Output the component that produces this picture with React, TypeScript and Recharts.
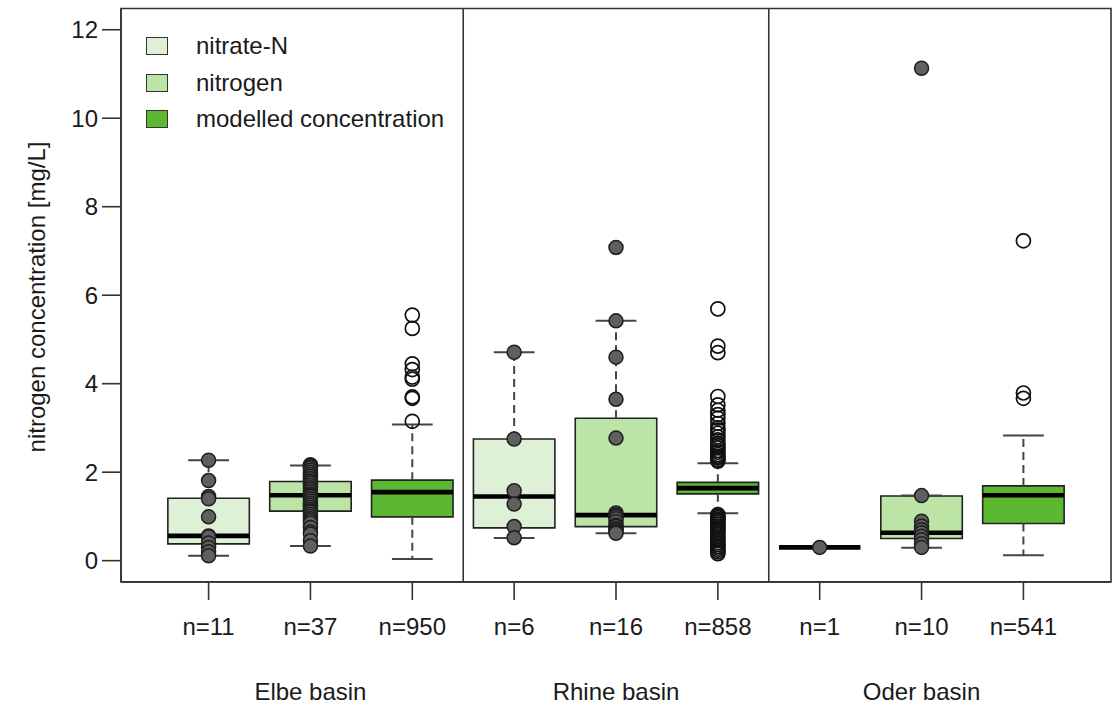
import React from 'react';
import { ComposedChart, XAxis, YAxis, Scatter, ReferenceArea, ReferenceLine, Legend } from 'recharts';

const BASINS = ['Elbe basin', 'Rhine basin', 'Oder basin'];
const BASIN_CENTERS = [2, 5, 8];
const SEPARATORS = [3.5, 6.5];
const SERIES_NAMES = ['nitrate-N', 'nitrogen', 'modelled concentration'];
const SERIES_COLORS = ['#DEF0D6', '#BBE4A6', '#5DB831'];

const BOX_POSITIONS = [1, 2, 3, 4, 5, 6, 7, 8, 9];
const BOX_SERIES = [0, 1, 2, 0, 1, 2, 0, 1, 2];
const N_LABELS = ['n=11', 'n=37', 'n=950', 'n=6', 'n=16', 'n=858', 'n=1', 'n=10', 'n=541'];

const WHISKER_LOW = [0.11, 0.33, 0.04, 0.51, 0.62, 1.07, 0.3, 0.29, 0.12];
const Q1 = [0.38, 1.12, 0.99, 0.74, 0.77, 1.51, 0.3, 0.5, 0.84];
const MEDIAN = [0.56, 1.48, 1.55, 1.45, 1.03, 1.64, 0.3, 0.63, 1.48];
const Q3 = [1.41, 1.79, 1.82, 2.75, 3.22, 1.77, 0.3, 1.46, 1.69];
const WHISKER_HIGH = [2.27, 2.15, 3.08, 4.71, 5.42, 2.2, 0.3, 1.47, 2.83];

// observed values (filled grey points)
const OBS_ELBE_NITRATE = [2.27, 1.81, 1.45, 1.4, 0.99, 0.56, 0.54, 0.4, 0.3, 0.2, 0.11];
const OBS_ELBE_NITROGEN = [
  2.17, 2.15, 2.12, 2.1, 2.05, 2.0, 1.95, 1.9, 1.85, 1.8, 1.79, 1.75, 1.7, 1.65, 1.6, 1.55, 1.5, 1.48, 1.45,
  1.4, 1.35, 1.3, 1.25, 1.2, 1.15, 1.12, 1.1, 1.05, 1.0, 0.95, 0.9, 0.85, 0.75, 0.65, 0.6, 0.45, 0.33,
];
const OBS_RHINE_NITRATE = [4.71, 2.75, 1.58, 1.28, 0.77, 0.52];
const OBS_RHINE_NITROGEN = [7.08, 5.42, 4.6, 3.65, 2.77, 1.08, 1.03, 1.0, 0.95, 0.88, 0.8, 0.77, 0.72, 0.68, 0.65, 0.62];
const OBS_ODER_NITRATE = [0.3];
const OBS_ODER_NITROGEN = [11.13, 1.47, 0.89, 0.78, 0.7, 0.63, 0.55, 0.47, 0.38, 0.3];

// modelled outliers (open circles)
const OUT_ELBE_MODEL = [5.55, 5.25, 4.45, 4.32, 4.15, 4.1, 3.7, 3.67, 3.15];
const OUT_RHINE_MODEL = [
  5.69, 4.85, 4.7, 3.71, 3.52, 3.4, 3.3, 3.22, 3.1, 3.0, 2.95, 2.88, 2.8, 2.73, 2.65, 2.6, 2.55, 2.49, 2.45,
  2.4, 2.36, 2.32, 2.28, 2.25, 1.04, 1.0, 0.97, 0.93, 0.9, 0.86, 0.82, 0.78, 0.74, 0.7, 0.65, 0.6, 0.55, 0.5,
  0.45, 0.4, 0.36, 0.32, 0.28, 0.24, 0.2, 0.16,
];
const OUT_ODER_MODEL = [7.23, 3.79, 3.67];

const OBS_SETS: [number, number[]][] = [
  [1, OBS_ELBE_NITRATE],
  [2, OBS_ELBE_NITROGEN],
  [4, OBS_RHINE_NITRATE],
  [5, OBS_RHINE_NITROGEN],
  [7, OBS_ODER_NITRATE],
  [8, OBS_ODER_NITROGEN],
];
const OUT_SETS: [number, number[]][] = [
  [3, OUT_ELBE_MODEL],
  [6, OUT_RHINE_MODEL],
  [9, OUT_ODER_MODEL],
];

const Y_TICKS = [0, 2, 4, 6, 8, 10, 12];
const X_DOMAIN: [number, number] = [0.14, 9.86];
const Y_DOMAIN: [number, number] = [-0.48, 12.48];
const BOX_HALF = 0.4;
const CAP_HALF = 0.2;

const FONT = '"Liberation Sans", Arial, Helvetica, sans-serif';
const TEXT = '#1a1a1a';
const LINE = '#333333';

const obsData = OBS_SETS.flatMap(([x, vals]) => vals.map((y) => ({ x, y })));
const outData = OUT_SETS.flatMap(([x, vals]) => vals.map((y) => ({ x, y })));

const FilledDot = (p: any) => (
  <circle cx={p.cx} cy={p.cy} r={7} fill="#5f5f5f" stroke="#1e1e1e" strokeWidth={1.5} />
);
const OpenDot = (p: any) => (
  <circle cx={p.cx} cy={p.cy} r={7} fill="none" stroke="#111111" strokeWidth={1.7} />
);

const XTick = (props: any) => {
  const { x, y, payload } = props;
  const i = BOX_POSITIONS.indexOf(payload.value);
  const b = BASIN_CENTERS.indexOf(payload.value);
  return (
    <g>
      <text x={x} y={y} dy="0.71em" textAnchor="middle" fontSize={24} fontFamily={FONT} fill={TEXT}>
        {N_LABELS[i]}
      </text>
      {b >= 0 && (
        <text x={x} y={y + 65} dy="0.71em" textAnchor="middle" fontSize={24} fontFamily={FONT} fill={TEXT}>
          {BASINS[b]}
        </text>
      )}
    </g>
  );
};

const LegendContent = () => (
  <div style={{ fontFamily: FONT, fontSize: 24, color: TEXT }}>
    {SERIES_NAMES.map((name, i) => (
      <div key={name} style={{ display: 'flex', alignItems: 'center', height: 36.5 }}>
        <div
          style={{
            width: 20,
            height: 16,
            background: SERIES_COLORS[i],
            border: '1.6px solid #333',
            marginRight: 28,
          }}
        />
        <span style={{ lineHeight: '24px' }}>{name}</span>
      </div>
    ))}
  </div>
);

const YLabel = () => (
  <text
    x={45}
    y={297}
    transform="rotate(-90, 45, 297)"
    textAnchor="middle"
    fontSize={24}
    fontFamily={FONT}
    fill={TEXT}
  >
    nitrogen concentration [mg/L]
  </text>
);

export default function App() {
  return (
    <div style={{ position: 'absolute', left: 0, top: 0, background: '#fff' }}>
      <ComposedChart width={1119} height={707} margin={{ top: 8.5, right: 8, bottom: 95.1, left: 0 }}>
        <XAxis
          dataKey="x"
          type="number"
          domain={X_DOMAIN}
          ticks={BOX_POSITIONS}
          allowDataOverflow
          height={30}
          tickSize={18}
          tickMargin={18}
          tick={<XTick />}
          axisLine={{ stroke: LINE, strokeWidth: 1.6 }}
          tickLine={{ stroke: LINE, strokeWidth: 1.6 }}
        />
        <YAxis
          dataKey="y"
          type="number"
          domain={Y_DOMAIN}
          ticks={Y_TICKS}
          allowDataOverflow
          width={121}
          tickSize={19}
          tickMargin={4}
          tick={{ fontSize: 24, fontFamily: FONT, fill: TEXT }}
          axisLine={{ stroke: LINE, strokeWidth: 1.6 }}
          tickLine={{ stroke: LINE, strokeWidth: 1.6 }}
          label={<YLabel />}
        />
        <Legend
          layout="vertical"
          align="center"
          verticalAlign="middle"
          wrapperStyle={{ left: 146, top: 28, width: 330, height: 110 }}
          content={<LegendContent />}
        />
        <ReferenceArea
          x1={X_DOMAIN[0]}
          x2={X_DOMAIN[1]}
          y1={Y_DOMAIN[0]}
          y2={Y_DOMAIN[1]}
          fill="none"
          fillOpacity={0}
          stroke={LINE}
          strokeWidth={1.6}
          ifOverflow="visible"
        />
        {SEPARATORS.map((s) => (
          <ReferenceLine key={'sep' + s} x={s} stroke={LINE} strokeWidth={1.6} />
        ))}
        {BOX_POSITIONS.map((p, i) => (
          <ReferenceLine
            key={'wu' + i}
            segment={[
              { x: p, y: Q3[i] },
              { x: p, y: WHISKER_HIGH[i] },
            ]}
            stroke="#444"
            strokeWidth={2}
            strokeDasharray="8 5"
          />
        ))}
        {BOX_POSITIONS.map((p, i) => (
          <ReferenceLine
            key={'wl' + i}
            segment={[
              { x: p, y: Q1[i] },
              { x: p, y: WHISKER_LOW[i] },
            ]}
            stroke="#444"
            strokeWidth={2}
            strokeDasharray="8 5"
          />
        ))}
        {BOX_POSITIONS.map((p, i) => (
          <ReferenceLine
            key={'cu' + i}
            segment={[
              { x: p - CAP_HALF, y: WHISKER_HIGH[i] },
              { x: p + CAP_HALF, y: WHISKER_HIGH[i] },
            ]}
            stroke="#444"
            strokeWidth={2}
          />
        ))}
        {BOX_POSITIONS.map((p, i) => (
          <ReferenceLine
            key={'cl' + i}
            segment={[
              { x: p - CAP_HALF, y: WHISKER_LOW[i] },
              { x: p + CAP_HALF, y: WHISKER_LOW[i] },
            ]}
            stroke="#444"
            strokeWidth={2}
          />
        ))}
        {BOX_POSITIONS.map((p, i) =>
          Q3[i] > Q1[i] ? (
            <ReferenceArea
              key={'box' + i}
              x1={p - BOX_HALF}
              x2={p + BOX_HALF}
              y1={Q1[i]}
              y2={Q3[i]}
              fill={SERIES_COLORS[BOX_SERIES[i]]}
              fillOpacity={1}
              stroke="#222"
              strokeWidth={1.6}
            />
          ) : null
        )}
        {BOX_POSITIONS.map((p, i) => (
          <ReferenceLine
            key={'med' + i}
            segment={[
              { x: p - BOX_HALF, y: MEDIAN[i] },
              { x: p + BOX_HALF, y: MEDIAN[i] },
            ]}
            stroke="#000"
            strokeWidth={4.6}
          />
        ))}
        <Scatter data={outData} dataKey="y" shape={<OpenDot />} isAnimationActive={false} />
        <Scatter data={obsData} dataKey="y" shape={<FilledDot />} isAnimationActive={false} />
      </ComposedChart>
    </div>
  );
}
